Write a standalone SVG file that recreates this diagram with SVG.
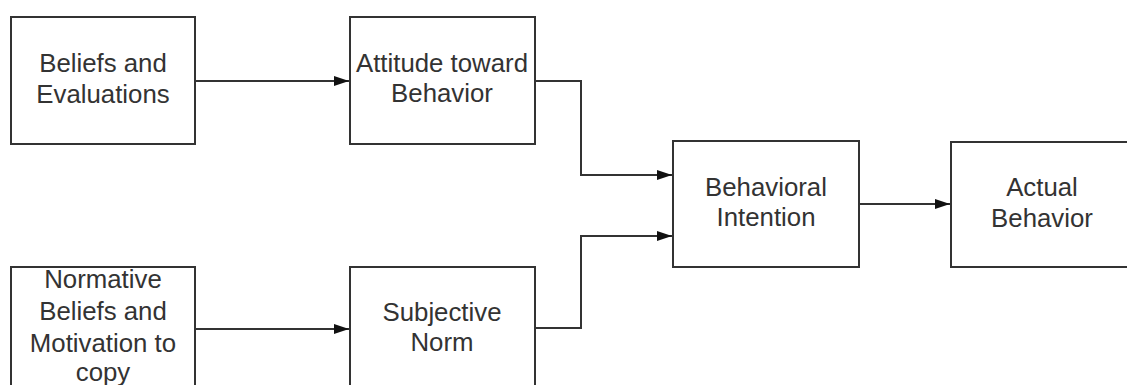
<svg xmlns="http://www.w3.org/2000/svg" width="1127" height="385" viewBox="0 0 1127 385">
  <style>
    .box { fill: #ffffff; stroke: #333333; stroke-width: 2; }
    .lbl { font-family: "Liberation Sans", Arial, sans-serif; font-size: 25.8px; fill: #333333; text-anchor: middle; }
    .wire { fill: none; stroke: #333333; stroke-width: 2; }
  </style>
  <defs>
    <marker id="head" markerUnits="userSpaceOnUse" markerWidth="16" markerHeight="12" refX="15" refY="6" orient="auto">
      <path d="M0,1 L15,6 L0,11 Z" fill="#111111"/>
    </marker>
  </defs>
  <rect width="1127" height="385" fill="#ffffff"/>

  <g id="beliefs-evaluations">
    <rect class="box" x="11" y="17" width="184" height="127"/>
    <text class="lbl" x="103" y="72">Beliefs and</text>
    <text class="lbl" x="103" y="103">Evaluations</text>
  </g>

  <g id="attitude">
    <rect class="box" x="350" y="17" width="185" height="127"/>
    <text class="lbl" x="442" y="72">Attitude toward</text>
    <text class="lbl" x="442" y="102">Behavior</text>
  </g>

  <g id="normative-beliefs">
    <rect class="box" x="11" y="267" width="184" height="130"/>
    <text class="lbl" x="103" y="288">Normative</text>
    <text class="lbl" x="103" y="320">Beliefs and</text>
    <text class="lbl" x="103" y="352">Motivation to</text>
    <text class="lbl" x="103" y="381">copy</text>
  </g>

  <g id="subjective-norm">
    <rect class="box" x="350" y="267" width="185" height="130"/>
    <text class="lbl" x="442" y="321">Subjective</text>
    <text class="lbl" x="442" y="351">Norm</text>
  </g>

  <g id="behavioral-intention">
    <rect class="box" x="673" y="141" width="186" height="126"/>
    <text class="lbl" x="766" y="196">Behavioral</text>
    <text class="lbl" x="766" y="226">Intention</text>
  </g>

  <g id="actual-behavior">
    <rect class="box" x="951" y="142" width="190" height="125"/>
    <text class="lbl" x="1042" y="196">Actual</text>
    <text class="lbl" x="1042" y="227">Behavior</text>
  </g>

  <g id="connectors">
    <path class="wire" d="M195,81 H349" marker-end="url(#head)"/>
    <path class="wire" d="M195,329 H349" marker-end="url(#head)"/>
    <path class="wire" d="M535,81 H581 V175 H672" marker-end="url(#head)"/>
    <path class="wire" d="M535,328 H581 V236 H672" marker-end="url(#head)"/>
    <path class="wire" d="M859,204 H950" marker-end="url(#head)"/>
  </g>
</svg>
